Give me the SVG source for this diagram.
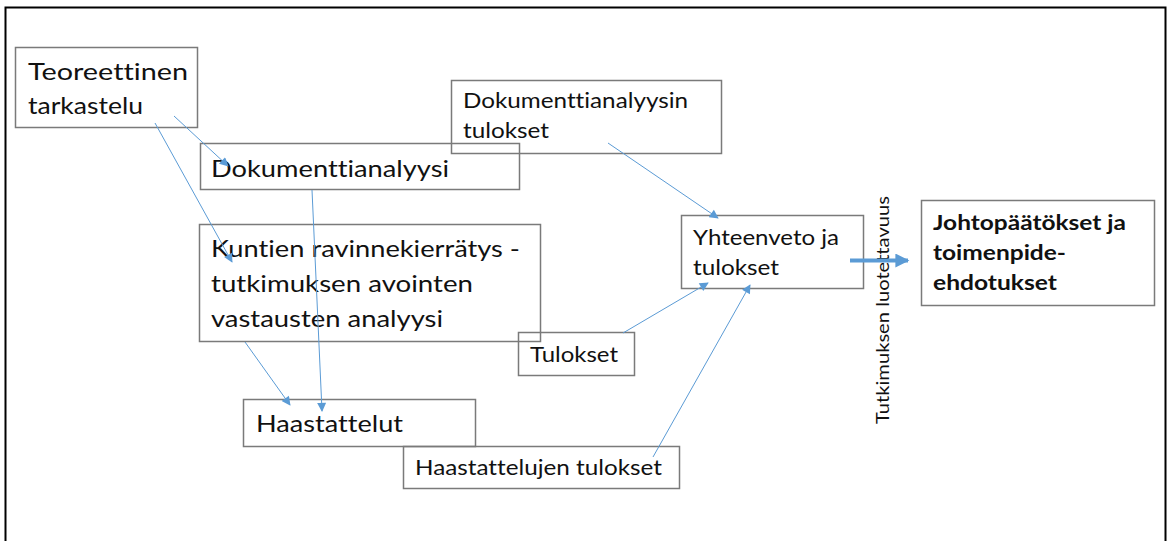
<svg xmlns="http://www.w3.org/2000/svg" width="1169" height="541" viewBox="0 0 1169 541">
<style>
.box{fill:none;stroke:#7a7a7a;stroke-width:1.5}
.t{font-family:Lato,"Open Sans","Liberation Sans",sans-serif;fill:#111;font-variant-ligatures:none}
.l{font-size:24px}
.m{font-size:21px}
.b{font-size:21px;font-weight:bold}
.c{fill:none;stroke:#5B9BD5;stroke-width:1;marker-end:url(#ah)}
</style>
<defs>
<marker id="ah" viewBox="0 0 10 10" refX="9" refY="5" markerWidth="10" markerHeight="9" markerUnits="userSpaceOnUse" orient="auto">
<path d="M0,0 L10,5 L0,10 Z" fill="#5B9BD5"/>
</marker>
<marker id="ahb" viewBox="0 0 10 10" refX="9" refY="5" markerWidth="15" markerHeight="14" markerUnits="userSpaceOnUse" orient="auto">
<path d="M0,0 L10,5 L0,10 Z" fill="#5B9BD5"/>
</marker>
</defs>
<rect x="0" y="0" width="1169" height="541" fill="#fff"/>
<rect x="5.5" y="7.5" width="1160" height="560" fill="none" stroke="#000" stroke-width="2"/>

<g id="teoreettinen">
<rect class="box" x="15.5" y="47.5" width="182" height="80"/>
<text class="t l" x="28" y="80" textLength="160" lengthAdjust="spacingAndGlyphs">Teoreettinen</text>
<text class="t l" x="28" y="114" textLength="115" lengthAdjust="spacingAndGlyphs">tarkastelu</text>
</g>
<g id="dokumenttianalyysi">
<rect class="box" x="200.5" y="143.5" width="319" height="46"/>
<text class="t l" x="211" y="177" textLength="238" lengthAdjust="spacingAndGlyphs">Dokumenttianalyysi</text>
</g>
<g id="kuntien">
<rect class="box" x="199.5" y="224.5" width="341" height="117"/>
<text class="t l" x="211" y="257" textLength="309" lengthAdjust="spacingAndGlyphs">Kuntien ravinnekierrätys -</text>
<text class="t l" x="211" y="292" textLength="262" lengthAdjust="spacingAndGlyphs">tutkimuksen avointen</text>
<text class="t l" x="211" y="327" textLength="232" lengthAdjust="spacingAndGlyphs">vastausten analyysi</text>
</g>
<g id="haastattelut">
<rect class="box" x="243.5" y="399.5" width="232" height="47"/>
<text class="t l" x="256" y="432" textLength="147" lengthAdjust="spacingAndGlyphs">Haastattelut</text>
</g>
<g id="haastattelujen-tulokset">
<rect class="box" x="403.5" y="446.5" width="276" height="42"/>
<text class="t m" x="415" y="475" textLength="247" lengthAdjust="spacingAndGlyphs">Haastattelujen tulokset</text>
</g>
<g id="dokumenttianalyysin-tulokset">
<rect class="box" x="451.5" y="80.5" width="270" height="73"/>
<text class="t m" x="463" y="108" textLength="225" lengthAdjust="spacingAndGlyphs">Dokumenttianalyysin</text>
<text class="t m" x="463" y="138" textLength="86" lengthAdjust="spacingAndGlyphs">tulokset</text>
</g>
<g id="tulokset">
<rect class="box" x="518.5" y="332.5" width="116" height="43"/>
<text class="t m" x="530" y="362" textLength="88" lengthAdjust="spacingAndGlyphs">Tulokset</text>
</g>
<g id="yhteenveto">
<rect class="box" x="681.5" y="215.5" width="182" height="73"/>
<text class="t m" x="693" y="245" textLength="146" lengthAdjust="spacingAndGlyphs">Yhteenveto ja</text>
<text class="t m" x="693" y="275" textLength="86" lengthAdjust="spacingAndGlyphs">tulokset</text>
</g>
<g id="johtopaatokset">
<rect class="box" x="921.5" y="200.5" width="233" height="105"/>
<text class="t b" x="933" y="230" textLength="193" lengthAdjust="spacingAndGlyphs">Johtopäätökset ja</text>
<text class="t b" x="933" y="260" textLength="133" lengthAdjust="spacingAndGlyphs">toimenpide-</text>
<text class="t b" x="933" y="290" textLength="124" lengthAdjust="spacingAndGlyphs">ehdotukset</text>
</g>
<g id="luotettavuus">
<text class="t" font-size="17" transform="translate(889,424) rotate(-90)" textLength="228" lengthAdjust="spacingAndGlyphs">Tutkimuksen luotettavuus</text>
</g>

<g id="connectors">
<line class="c" x1="174" y1="116" x2="228" y2="166"/>
<line class="c" x1="155" y1="123" x2="232" y2="262"/>
<line class="c" x1="312" y1="190" x2="322" y2="411"/>
<line class="c" x1="245" y1="342" x2="290" y2="405"/>
<line class="c" x1="608" y1="143" x2="718" y2="218"/>
<line class="c" x1="623" y1="333" x2="708" y2="283"/>
<line class="c" x1="653" y1="457" x2="750" y2="285"/>
<line x1="850" y1="260.5" x2="908" y2="260.5" stroke="#5B9BD5" stroke-width="4" marker-end="url(#ahb)"/>
</g>
</svg>
